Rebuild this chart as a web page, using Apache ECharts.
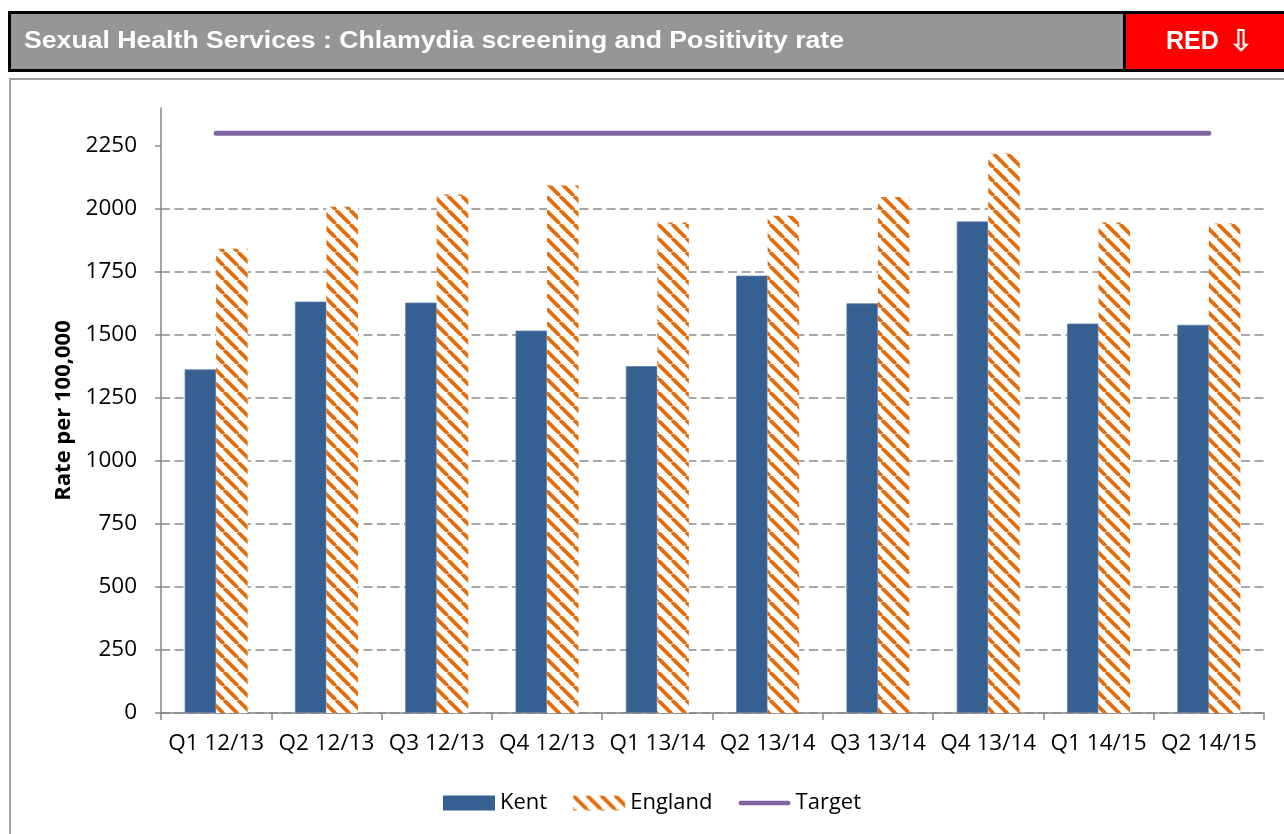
<!DOCTYPE html>
<html>
<head>
<meta charset="utf-8">
<script src="https://cdn.jsdelivr.net/npm/echarts@6/dist/echarts.min.js"></script>
<style>
html,body{margin:0;padding:0;background:#fff;overflow:hidden}
#c{width:1284px;height:834px}
</style>
</head>
<body>
<div id="c"></div>
<script>
const categories = ['Q1 12/13','Q2 12/13','Q3 12/13','Q4 12/13','Q1 13/14','Q2 13/14','Q3 13/14','Q4 13/14','Q1 14/15','Q2 14/15'];
const kent = [1363,1632,1628,1517,1376,1735,1625,1950,1545,1540];
const england = [1842,2008,2057,2093,1946,1973,2047,2220,1946,1942];
const target = [2300,2300,2300,2300,2300,2300,2300,2300,2300,2300];
const yTicks = [0,250,500,750,1000,1250,1500,1750,2000,2250];
const headerTitle = 'Sexual Health Services : Chlamydia screening and Positivity rate';
const ragWord = 'RED';
const ragArrow = '\u21E9';
const yAxisTitle = 'Rate per 100,000';

function stripeTile(){
  const s = 14;
  const c = document.createElement('canvas');
  c.width = s; c.height = s;
  const g = c.getContext('2d');
  g.fillStyle = '#ffffff';
  g.fillRect(0,0,s,s);
  g.strokeStyle = '#E46C0A';
  g.lineWidth = 3.8;
  [-s,0,s].forEach(o=>{
    g.beginPath(); g.moveTo(o,0); g.lineTo(o+s,s); g.stroke();
  });
  return c;
}

const titleFont = 'bold 23px "Liberation Sans", Arial, sans-serif';
function titleScale(){
  const c = document.createElement('canvas');
  const g = c.getContext('2d');
  g.font = titleFont;
  const w = g.measureText(headerTitle).width;
  return 820 / w;
}

const chart = echarts.init(document.getElementById('c'), null, {renderer:'canvas'});
const font = '"Open Sans", sans-serif';

chart.setOption({
  animation: false,
  backgroundColor: '#ffffff',
  graphic: [
    { type:'rect', z:0, shape:{x:10, y:79, width:1300, height:800},
      style:{fill:'none', stroke:'#a0a0a0', lineWidth:2} },
    { type:'rect', z:1, shape:{x:9.5, y:12.5, width:1300, height:58},
      style:{fill:'#969696', stroke:'#000', lineWidth:3} },
    { type:'rect', z:2, shape:{x:1124.5, y:12.5, width:200, height:58},
      style:{fill:'#FF0000', stroke:'#000', lineWidth:3} },
    { type:'text', z:3, x:24, y:42, scaleX: titleScale(),
      style:{text:headerTitle, fill:'#fff', font:titleFont,
        verticalAlign:'middle', align:'left'} },
    { type:'text', z:3, x:1166, y:42,
      style:{text:ragWord, fill:'#fff', font:'bold 25px "Liberation Sans", Arial, sans-serif',
        verticalAlign:'middle', align:'left'} },
    { type:'text', z:3, x:1241, y:43,
      style:{text:ragArrow, fill:'#fff', font:'bold 30px "DejaVu Sans", sans-serif',
        verticalAlign:'middle', align:'center'} }
  ],
  grid: { left:161, right:20, top:108, bottom:121, containLabel:false },
  legend: {
    left: 438, top: 787,
    itemWidth: 52, itemHeight: 15, itemGap: 26,
    symbolKeepAspect: true,
    itemStyle: { borderWidth: 0 },
    textStyle: { fontFamily: font, fontSize: 22, color:'#000' },
    data: [
      { name:'Kent', icon:'rect' },
      { name:'England', icon:'rect' },
      { name:'Target', icon:'path://M2.5,0 L53.5,0 A2.5,2.5 0 0 1 53.5,5 L2.5,5 A2.5,2.5 0 0 1 2.5,0 Z' }
    ]
  },
  xAxis: {
    type:'category', data: categories,
    axisLine: { lineStyle:{ color:'#868686', width:1.5 } },
    axisTick: { show:true, length:7, lineStyle:{ color:'#868686', width:1.5 } },
    axisLabel: { interval:0, fontFamily: font, fontSize:22.5, color:'#000', margin:19 },
    splitLine: { show:false }
  },
  yAxis: {
    type:'value', min:0, max:2400, interval:250,
    name: yAxisTitle, nameLocation:'middle', nameGap:86,
    nameTextStyle: { fontFamily: font, fontSize:22, fontWeight:'bold', color:'#000' },
    axisLine: { show:true, lineStyle:{ color:'#868686', width:1.5 } },
    axisTick: { show:true, length:6, customValues: yTicks, lineStyle:{ color:'#868686', width:1.5 } },
    axisLabel: { customValues: yTicks, fontFamily: font, fontSize:22.5, color:'#000', margin:24,
      formatter: v => String(v) },
    splitLine: { show:true, showMaxLine:false, lineStyle:{ color:'#8a8a8a', width:1.5, type:[9,4.5] } }
  },
  series: [
    { name:'Kent', type:'bar', data: kent, barWidth:31.5, barGap:'0%',
      itemStyle:{ color:'#376092', borderColor:'#5f80aa', borderWidth:0.8 } },
    { name:'England', type:'bar', data: england, barWidth:31.5, barGap:'0%',
      itemStyle:{ color:{ image: stripeTile(), repeat:'repeat' } } },
    { name:'Target', type:'line', data: target, symbol:'none', z:5,
      lineStyle:{ color:'#8064A2', width:5, cap:'round' },
      itemStyle:{ color:'#8064A2' } }
  ]
});
</script>
</body>
</html>
